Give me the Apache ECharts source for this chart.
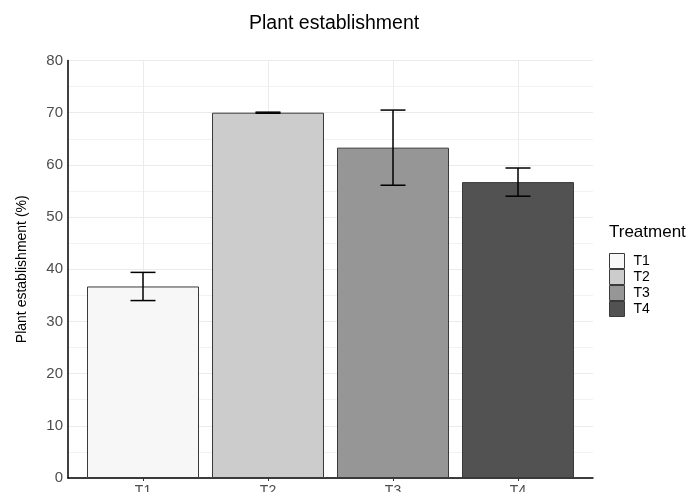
<!DOCTYPE html>
<html><head><meta charset="utf-8">
<script src="https://cdn.jsdelivr.net/npm/echarts@6/dist/echarts.min.js"></script>
<style>html,body{margin:0;padding:0;background:#fff}#c{width:688px;height:492px}</style>
</head><body><div id="c"></div>
<script>
var categories = ['T1','T2','T3','T4'];
var means = [36.7, 70.0, 63.3, 56.7];
var errors = [2.7, 0.1, 7.2, 2.7];
var fills = ['#F7F7F7','#CCCCCC','#969696','#525252'];
var yTicks = [0,10,20,30,40,50,60,70,80];

var chart = echarts.init(document.getElementById('c'));
var font = 'Liberation Sans, Arial, sans-serif';
var series = categories.map(function(c,i){
  return {
    name: c, type: 'bar', xAxisIndex:0, yAxisIndex:0,
    barWidth: 112, barGap: '-100%',
    itemStyle: {color: fills[i], borderColor: '#3a3a3a', borderWidth: 1},
    data: [[i+1, means[i]]]
  };
});
series.push({
  type: 'custom', name: 'err', silent: true, z: 10,
  data: categories.map(function(c,i){ return [i+1, means[i]-errors[i], means[i]+errors[i]]; }),
  renderItem: function(params, api){
    var x = api.value(0);
    var lo = api.coord([x, api.value(1)]);
    var hi = api.coord([x, api.value(2)]);
    var hw = 12.5;
    var st = {stroke:'#000', lineWidth:1.5};
    return {type:'group', children:[
      {type:'line', shape:{x1:lo[0],y1:lo[1],x2:hi[0],y2:hi[1]}, style:st},
      {type:'line', shape:{x1:lo[0]-hw,y1:lo[1],x2:lo[0]+hw,y2:lo[1]}, style:st},
      {type:'line', shape:{x1:hi[0]-hw,y1:hi[1],x2:hi[0]+hw,y2:hi[1]}, style:st}
    ]};
  }
});

chart.setOption({
  animation: false,
  textStyle: {fontFamily: font},
  title: {text: 'Plant establishment', left: 244, top: 9,
    textStyle: {fontSize: 19.5, fontWeight: 'normal', color: '#000', fontFamily: font}},
  grid: {left: 68, right: 95, top: 60.5, bottom: 14, containLabel: false, outerBoundsMode: 'none'},
  legend: {
    data: categories, orient: 'vertical', left: 604, top: 248,
    itemWidth: 15, itemHeight: 15, itemGap: 0, icon: 'rect',
    itemStyle: {borderColor: '#3a3a3a', borderWidth: 1},
    textStyle: {fontSize: 14, lineHeight: 15, color: '#000', fontFamily: font, padding:[0,0,0,4]},
    selectedMode: false
  },
  graphic: [{type:'text', left: 609, top: 224,
    style:{text:'Treatment', fontSize: 17, fill:'#000', fontFamily: font}}],
  xAxis: {
    type: 'value', min: 0.4, max: 4.6,
    axisLine: {show: true, onZero: false, lineStyle: {color:'#000', width: 1.5}},
    axisTick: {show: true, customValues: [1,2,3,4], length: 3, lineStyle:{color:'#333'}},
    axisLabel: {customValues: [1,2,3,4], fontSize: 14, color: '#4D4D4D', margin: 6,
      formatter: function(v){ return categories[Math.round(v)-1] || ''; }},
    splitLine: {show: true, lineStyle: {color: '#EBEBEB', width: 1}}
  },
  yAxis: {
    type: 'value', min: 0, max: 80, interval: 10,
    name: 'Plant establishment (%)', nameLocation: 'middle', nameGap: 39,
    nameTextStyle: {fontSize: 14, color: '#000', fontFamily: font},
    axisLine: {show: true, lineStyle: {color:'#000', width: 1.5}},
    axisTick: {show: false},
    axisLabel: {fontSize: 15, color: '#4D4D4D', margin: 5,
      formatter: function(v){ return yTicks.indexOf(v) >= 0 ? String(v) : ''; }},
    splitLine: {show: true, lineStyle: {color: '#EBEBEB', width: 1}},
    minorTick: {show: false, splitNumber: 2},
    minorSplitLine: {show: true, lineStyle: {color: '#F2F2F2', width: 1}}
  },
  series: series
});
</script></body></html>
